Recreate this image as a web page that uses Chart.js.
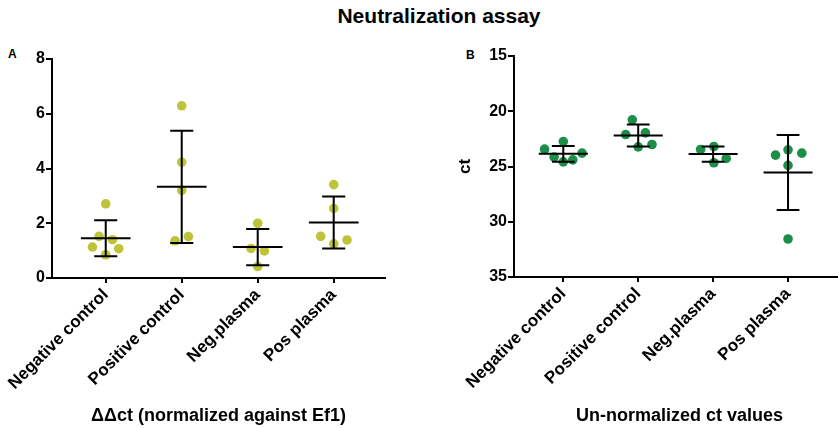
<!DOCTYPE html>
<html>
<head>
<meta charset="utf-8">
<script src="https://cdn.jsdelivr.net/npm/chart.js@4/dist/chart.umd.min.js"></script>
<style>
  html, body { margin:0; padding:0; background:#fff; }
  body { width:838px; height:428px; overflow:hidden; position:relative; font-family:'Liberation Sans', Arial, sans-serif; }
  .lbl { position:absolute; font-weight:bold; color:#000; white-space:nowrap; }
  .box { position:absolute; top:0; }
</style>
</head>
<body>
<div class="lbl" style="left:0;width:878px;top:4px;text-align:center;font-size:21px;line-height:24px;">Neutralization assay</div>
<div class="lbl" style="left:8px;top:47px;font-size:12px;line-height:14px;">A</div>
<div class="lbl" style="left:466px;top:48px;font-size:12px;line-height:14px;">B</div>
<div class="box" style="left:0;width:420px;height:428px;"><canvas id="chartA" width="420" height="428"></canvas></div>
<div class="box" style="left:420px;width:430px;height:428px;"><canvas id="chartB" width="430" height="428"></canvas></div>
<script>
// ---------- data ----------
const categories = ['Negative control', 'Positive control', 'Neg.plasma', 'Pos plasma'];

// Panel A: ΔΔct (normalized against Ef1)
const ddctNegControl = [2.71, 1.52, 1.40, 1.13, 1.07, 0.85];
const ddctPosControl = [6.29, 4.23, 3.20, 1.51, 1.36];
const ddctNegPlasma  = [2.00, 1.08, 0.99, 0.42];
const ddctPosPlasma  = [3.41, 2.54, 1.52, 1.25, 1.39];
const ddctMean = [1.45, 3.33, 1.13, 2.03];
const ddctSD   = [0.66, 2.05, 0.66, 0.95];

// Panel B: un-normalized ct values
const ctNegControl = [23.43, 22.74, 24.15, 24.58, 24.40, 23.79];
const ctPosControl = [20.78, 22.11, 21.96, 23.22, 23.01];
const ctNegPlasma  = [23.46, 23.19, 24.27, 24.66];
const ctPosPlasma  = [23.97, 23.49, 23.79, 24.90, 31.56];
const ctMean = [23.85, 22.20, 23.88, 25.54];
const ctSD   = [0.71, 1.00, 0.70, 3.40];

const yTicksA = [0, 2, 4, 6, 8];
const yTicksB = [15, 20, 25, 30, 35];

// ---------- layout (horizontal scatter jitter, in category units) ----------
const jitterA = [
  [0, -0.088, 0.088, -0.175, 0.171, 0],
  [0, 0, 0, 0.088, -0.088],
  [0, -0.088, 0.088, 0],
  [0, 0, -0.171, 0, 0.175]
];
const jitterB = [
  [-0.25, 0, -0.123, 0, 0.127, 0.25],
  [-0.079, -0.167, 0.096, 0, 0.184],
  [-0.167, 0.01, 0.175, 0.01],
  [-0.167, 0, 0.184, 0, 0]
];

const FONT = "'Liberation Sans', Arial, sans-serif";

function buildPoints(groups, jitter) {
  const pts = [];
  groups.forEach((vals, i) => vals.forEach((v, j) => pts.push({ x: i + jitter[i][j], y: v })));
  return pts;
}

const errorBars = {
  id: 'errorBars',
  afterDatasetsDraw(chart, args, opts) {
    const { ctx } = chart;
    const xs = chart.scales.x, ys = chart.scales.y;
    ctx.save();
    ctx.strokeStyle = '#000';
    ctx.lineWidth = 2;
    opts.means.forEach((m, i) => {
      const xc = xs.getPixelForValue(i);
      const mw = xs.getPixelForValue(i + opts.meanHalf) - xc;
      const cw = xs.getPixelForValue(i + opts.capHalf) - xc;
      const ym = ys.getPixelForValue(m);
      const y1 = ys.getPixelForValue(m + opts.sds[i]);
      const y2 = ys.getPixelForValue(m - opts.sds[i]);
      ctx.beginPath();
      ctx.moveTo(xc - mw, ym); ctx.lineTo(xc + mw, ym);
      ctx.moveTo(xc, y1); ctx.lineTo(xc, y2);
      ctx.moveTo(xc - cw, y1); ctx.lineTo(xc + cw, y1);
      ctx.moveTo(xc - cw, y2); ctx.lineTo(xc + cw, y2);
      ctx.stroke();
    });
    ctx.restore();
  }
};

function makeChart(id, cfg) {
  const axisGrid = { drawOnChartArea: false, drawTicks: true, color: '#000', lineWidth: 2 };
  const axisBorder = { display: true, color: '#000', width: 2 };
  return new Chart(document.getElementById(id), {
    type: 'scatter',
    data: {
      datasets: [{
        data: buildPoints(cfg.groups, cfg.jitter),
        backgroundColor: cfg.color,
        borderWidth: 0,
        pointRadius: 4.8,
        pointHoverRadius: 4.8
      }]
    },
    options: {
      responsive: false,
      animation: false,
      devicePixelRatio: 1,
      layout: { padding: cfg.padding },
      plugins: {
        legend: { display: false },
        tooltip: { enabled: false },
        errorBars: { means: cfg.means, sds: cfg.sds, meanHalf: 0.327, capHalf: 0.152 }
      },
      scales: {
        x: {
          type: 'linear',
          min: cfg.xMin, max: cfg.xMax,
          afterBuildTicks: s => { s.ticks = categories.map((c, i) => ({ value: i })); },
          afterFit: s => { s.height = cfg.xHeight; },
          ticks: {
            autoSkip: false, minRotation: 45, maxRotation: 45,
            callback: v => categories[v],
            color: '#000', padding: 2,
            font: { family: FONT, size: 17, weight: 'bold' }
          },
          grid: Object.assign({ tickLength: 5 }, axisGrid),
          border: axisBorder,
          title: {
            display: true, text: cfg.xTitle, color: '#000',
            font: { family: FONT, size: 18, weight: 'bold' },
            padding: { top: 0, bottom: 1 }
          }
        },
        y: {
          min: cfg.yTicks[0], max: cfg.yTicks[cfg.yTicks.length - 1],
          reverse: cfg.reverse,
          afterBuildTicks: s => { s.ticks = cfg.yTicks.map(v => ({ value: v })); },
          afterFit: s => { s.width = cfg.yWidth; },
          ticks: { color: '#000', padding: 1, font: { family: FONT, size: 16, weight: 'bold' } },
          grid: Object.assign({ tickLength: 6 }, axisGrid),
          border: axisBorder,
          title: cfg.yTitle ? {
            display: true, text: cfg.yTitle, color: '#000',
            font: { family: FONT, size: 17, weight: 'bold' },
            padding: { top: 35, bottom: 0 }
          } : { display: false }
        }
      }
    },
    plugins: [errorBars]
  });
}

makeChart('chartA', {
  groups: [ddctNegControl, ddctPosControl, ddctNegPlasma, ddctPosPlasma],
  jitter: jitterA, means: ddctMean, sds: ddctSD,
  color: '#BEC43A',
  padding: { top: 59, right: 35, bottom: 0, left: 0 },
  xMin: -0.707, xMax: 3.675, xHeight: 150, yWidth: 52,
  yTicks: yTicksA, reverse: false,
  xTitle: 'ΔΔct (normalized against Ef1)', yTitle: null
});

makeChart('chartB', {
  groups: [ctNegControl, ctPosControl, ctNegPlasma, ctPosPlasma],
  jitter: jitterB, means: ctMean, sds: ctSD,
  color: '#1B8E47',
  padding: { top: 56, right: 0, bottom: 0, left: 0 },
  xMin: -0.658, xMax: 3.763, xHeight: 151, yWidth: 94,
  yTicks: yTicksB, reverse: true,
  xTitle: 'Un-normalized ct values', yTitle: 'ct'
});
</script>
</body>
</html>
